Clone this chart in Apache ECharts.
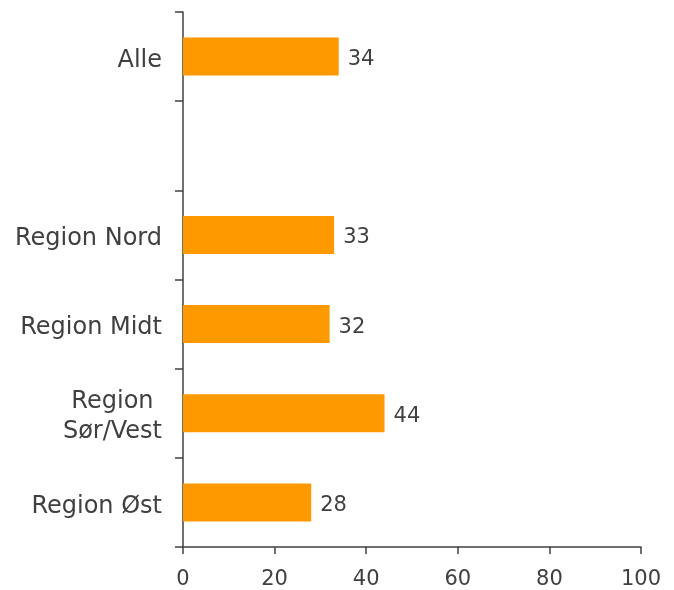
<!DOCTYPE html>
<html>
<head>
<meta charset="utf-8">
<script src="https://cdn.jsdelivr.net/npm/echarts@6/dist/echarts.min.js"></script>
<style>
html,body{margin:0;padding:0;background:#fff;}
#chart{width:674px;height:590px;}
</style>
</head>
<body>
<div id="chart"></div>
<script>
// Categories listed bottom to top; the empty one leaves a gap above the regions
var categories = ['Region Øst', 'Region\nSør/Vest', 'Region Midt', 'Region Nord', '', 'Alle'];
var values = [28, 44, 32, 33, null, 34];
var xTicks = [0, 20, 40, 60, 80, 100];

var textColor = '#404040';
var fontFamily = '"DejaVu Sans", Verdana, sans-serif';

var chart = echarts.init(document.getElementById('chart'));
chart.setOption({
  animation: false,
  grid: { left: 183, right: 33, top: 12, bottom: 42, containLabel: false },
  xAxis: {
    type: 'value',
    min: xTicks[0],
    max: xTicks[xTicks.length - 1],
    interval: xTicks[1] - xTicks[0],
    splitLine: { show: false },
    axisLine: { show: true, lineStyle: { color: textColor, width: 1.5 } },
    axisTick: { show: true, length: 7, lineStyle: { color: textColor, width: 1.5 } },
    axisLabel: { color: textColor, fontSize: 21, fontFamily: fontFamily, margin: 22 }
  },
  yAxis: {
    type: 'category',
    data: categories,
    axisLine: { show: true, lineStyle: { color: textColor, width: 1.5 } },
    axisTick: { show: true, length: 8, lineStyle: { color: textColor, width: 1.5 } },
    axisLabel: {
      color: textColor,
      fontSize: 24,
      fontFamily: fontFamily,
      margin: 21,
      lineHeight: 30,
      padding: [8, 0, 0, 0],
      formatter: function (v) {
        return v.split('\n').map(function (s) { return '{c|' + s + '}'; }).join('\n');
      },
      rich: {
        c: { align: 'center', color: textColor, fontSize: 24, fontFamily: fontFamily, lineHeight: 30 }
      }
    }
  },
  series: [{
    type: 'bar',
    data: values,
    barWidth: 38,
    itemStyle: { color: '#FF9900' },
    label: {
      show: true,
      position: 'right',
      distance: 9,
      offset: [0, 3],
      color: textColor,
      fontSize: 21,
      fontFamily: fontFamily
    }
  }]
});
</script>
</body>
</html>
